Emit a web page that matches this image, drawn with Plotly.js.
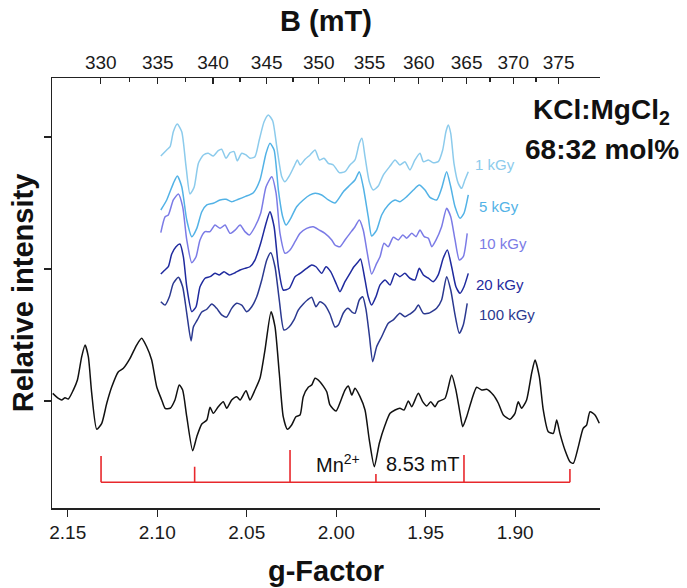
<!DOCTYPE html>
<html>
<head>
<meta charset="utf-8">
<script src="https://cdn.plot.ly/plotly-3.0.1.min.js"></script>
<style>html,body{margin:0;padding:0;background:#fff;}#chart{width:687px;height:588px;}</style>
</head>
<body>
<div id="chart"></div>
<script>
// ---- data (g-factor on x, relative intensity on y) ----
const doseLabels = ['1 kGy', '5 kGy', '10 kGy', '20 kGy', '100 kGy'];
const doseColors = ['#8ccbec', '#52b2e6', '#7b7be6', '#1f2a9e', '#2b3990'];

const g0 = [2.1584,2.1552,2.1534,2.1515,2.1497,2.1469,2.1446,2.1422,2.1403,2.1385,2.1366,2.1338,2.1310,2.1282,2.1254,2.1217,2.1189,2.1152,2.1115,2.1087,2.1059,2.1031,2.1003,2.0975,2.0956,2.0928,2.0901,2.0877,2.0858,2.0835,2.0802,2.0779,2.0751,2.0723,2.0705,2.0687,2.0659,2.0631,2.0612,2.0584,2.0556,2.0537,2.0504,2.0482,2.0454,2.0426,2.0398,2.0364,2.0342,2.0318,2.0296,2.0273,2.0249,2.0225,2.0202,2.0184,2.0156,2.0137,2.0118,2.0091,2.0053,2.0035,2.0001,1.9973,1.9951,1.9932,1.9913,1.9895,1.9867,1.9839,1.9815,1.9787,1.9759,1.9727,1.9699,1.9671,1.9644,1.9621,1.9597,1.9578,1.9541,1.9517,1.9494,1.9472,1.9448,1.9430,1.9392,1.9355,1.9331,1.9308,1.9293,1.9271,1.9243,1.9215,1.9187,1.9159,1.9122,1.9094,1.9066,1.9029,1.9001,1.8983,1.8964,1.8936,1.8908,1.8889,1.8865,1.8843,1.8815,1.8787,1.8768,1.8750,1.8722,1.8694,1.8675,1.8647,1.8620,1.8601,1.8582,1.8554,1.8530];
const y0 = [0.058,0.020,0.008,0.025,0.015,0.083,0.159,0.336,0.424,0.336,0.058,-0.214,-0.169,-0.017,0.108,0.222,0.248,0.323,0.424,0.475,0.411,0.311,0.108,0.008,-0.055,-0.055,0.008,0.121,0.083,-0.119,-0.377,-0.270,-0.174,-0.144,-0.048,-0.093,-0.043,-0.005,-0.055,0.008,0.033,0.008,0.078,0.008,0.083,0.172,0.386,0.677,0.563,0.210,-0.119,-0.214,-0.182,-0.119,-0.106,0.033,0.104,0.121,0.172,0.146,0.070,-0.030,-0.076,0.008,0.083,0.114,0.045,0.096,0.033,-0.068,-0.295,-0.498,-0.320,-0.182,-0.093,-0.068,-0.055,-0.068,0.000,-0.043,0.058,-0.005,-0.038,-0.005,-0.043,-0.005,0.020,0.197,0.083,-0.093,-0.195,-0.119,0.008,0.104,0.083,0.089,0.045,-0.017,-0.106,-0.139,-0.093,-0.005,-0.055,0.008,0.210,0.311,0.184,-0.068,-0.233,-0.245,-0.144,-0.245,-0.371,-0.460,-0.472,-0.346,-0.207,-0.182,-0.081,-0.106,-0.169];

const g1 = [2.0980,2.0947,2.0928,2.0910,2.0888,2.0863,2.0839,2.0817,2.0794,2.0770,2.0742,2.0715,2.0687,2.0659,2.0640,2.0616,2.0593,2.0571,2.0553,2.0528,2.0504,2.0482,2.0454,2.0430,2.0403,2.0379,2.0355,2.0332,2.0304,2.0286,2.0262,2.0236,2.0217,2.0202,2.0174,2.0146,2.0118,2.0094,2.0068,2.0044,2.0016,1.9983,1.9951,1.9923,1.9895,1.9871,1.9856,1.9839,1.9815,1.9793,1.9765,1.9737,1.9699,1.9671,1.9644,1.9616,1.9588,1.9560,1.9532,1.9513,1.9485,1.9458,1.9430,1.9405,1.9387,1.9374,1.9360,1.9342,1.9318,1.9299,1.9281,1.9262];
const y1 = [1.856,1.902,1.927,2.040,2.098,2.040,1.775,1.568,1.619,1.801,1.864,1.877,1.856,1.896,1.907,1.839,1.881,1.889,1.820,1.877,1.864,1.839,1.851,1.977,2.116,2.167,2.123,1.927,1.699,1.661,1.705,1.775,1.826,1.788,1.831,1.864,1.902,1.826,1.839,1.801,1.788,1.730,1.737,1.788,1.826,1.952,1.990,1.851,1.661,1.598,1.629,1.712,1.780,1.826,1.788,1.813,1.750,1.826,1.877,1.813,1.826,1.805,1.813,1.902,2.040,2.091,2.028,1.801,1.649,1.611,1.674,1.737];

const g5 = [2.0980,2.0947,2.0910,2.0888,2.0863,2.0835,2.0807,2.0779,2.0751,2.0723,2.0687,2.0649,2.0616,2.0584,2.0547,2.0510,2.0463,2.0426,2.0392,2.0370,2.0347,2.0323,2.0299,2.0280,2.0254,2.0221,2.0184,2.0146,2.0118,2.0081,2.0044,2.0007,1.9960,1.9923,1.9895,1.9871,1.9849,1.9821,1.9802,1.9774,1.9746,1.9709,1.9671,1.9644,1.9606,1.9569,1.9536,1.9504,1.9476,1.9439,1.9411,1.9383,1.9360,1.9336,1.9308,1.9286,1.9262];
const y5 = [1.447,1.523,1.649,1.705,1.623,1.371,1.245,1.308,1.434,1.485,1.498,1.523,1.528,1.510,1.528,1.548,1.578,1.674,1.877,1.952,1.902,1.598,1.396,1.333,1.384,1.472,1.523,1.561,1.573,1.561,1.523,1.500,1.586,1.636,1.674,1.737,1.623,1.396,1.250,1.295,1.409,1.485,1.523,1.510,1.548,1.598,1.636,1.598,1.543,1.523,1.611,1.737,1.623,1.472,1.384,1.422,1.561];

const g10 = [2.0980,2.0956,2.0938,2.0910,2.0882,2.0858,2.0835,2.0807,2.0783,2.0761,2.0733,2.0705,2.0677,2.0649,2.0621,2.0593,2.0565,2.0537,2.0510,2.0485,2.0454,2.0422,2.0392,2.0360,2.0336,2.0314,2.0286,2.0258,2.0230,2.0202,2.0165,2.0128,2.0094,2.0063,2.0025,2.0007,1.9979,1.9951,1.9923,1.9895,1.9871,1.9849,1.9826,1.9802,1.9774,1.9755,1.9733,1.9709,1.9681,1.9653,1.9628,1.9606,1.9578,1.9554,1.9532,1.9508,1.9485,1.9466,1.9442,1.9411,1.9383,1.9360,1.9336,1.9312,1.9290,1.9268];
const y10 = [1.275,1.396,1.409,1.523,1.568,1.472,1.220,1.048,1.093,1.220,1.283,1.283,1.333,1.308,1.333,1.270,1.295,1.333,1.283,1.258,1.320,1.422,1.623,1.699,1.574,1.270,1.119,1.144,1.207,1.270,1.308,1.320,1.295,1.270,1.220,1.182,1.169,1.220,1.270,1.320,1.371,1.295,1.119,0.962,1.043,1.093,1.195,1.169,1.240,1.220,1.258,1.233,1.270,1.245,1.295,1.245,1.233,1.169,1.220,1.320,1.460,1.396,1.220,1.068,1.093,1.270];

const g20 = [2.0980,2.0962,2.0938,2.0919,2.0895,2.0873,2.0854,2.0835,2.0807,2.0783,2.0761,2.0733,2.0705,2.0677,2.0653,2.0627,2.0597,2.0565,2.0537,2.0510,2.0482,2.0454,2.0422,2.0392,2.0370,2.0347,2.0323,2.0296,2.0262,2.0230,2.0202,2.0165,2.0137,2.0113,2.0081,2.0057,2.0031,1.9997,1.9979,1.9951,1.9923,1.9901,1.9877,1.9864,1.9839,1.9821,1.9802,1.9778,1.9755,1.9727,1.9699,1.9671,1.9644,1.9616,1.9588,1.9560,1.9536,1.9513,1.9485,1.9458,1.9430,1.9402,1.9379,1.9355,1.9331,1.9308,1.9286,1.9262];
const y20 = [0.962,0.987,1.018,1.114,1.169,1.189,1.093,0.866,0.677,0.714,0.866,0.930,0.942,0.967,0.955,0.980,0.955,0.972,0.992,1.005,1.017,1.068,1.195,1.346,1.434,1.320,1.017,0.841,0.854,0.942,0.967,1.005,1.030,1.017,0.967,1.017,0.980,0.879,0.828,0.904,0.967,1.017,1.055,1.076,0.917,0.790,0.727,0.790,0.879,0.917,0.879,0.967,0.942,0.967,0.930,0.917,1.005,0.955,0.930,0.904,0.955,1.081,1.144,1.017,0.866,0.816,0.866,0.967];

const g100 = [2.0980,2.0956,2.0932,2.0910,2.0882,2.0858,2.0835,2.0811,2.0798,2.0776,2.0751,2.0723,2.0695,2.0668,2.0640,2.0612,2.0584,2.0556,2.0528,2.0500,2.0472,2.0444,2.0416,2.0388,2.0366,2.0342,2.0318,2.0292,2.0262,2.0236,2.0212,2.0184,2.0161,2.0137,2.0113,2.0091,2.0063,2.0035,2.0007,1.9988,1.9960,1.9934,1.9912,1.9895,1.9871,1.9852,1.9833,1.9815,1.9796,1.9774,1.9746,1.9709,1.9681,1.9644,1.9616,1.9588,1.9560,1.9541,1.9513,1.9485,1.9466,1.9439,1.9411,1.9383,1.9360,1.9336,1.9312,1.9290,1.9268];
const y100 = [0.752,0.727,0.790,0.892,0.937,0.866,0.664,0.455,0.561,0.614,0.674,0.695,0.735,0.702,0.652,0.636,0.702,0.740,0.727,0.677,0.714,0.790,0.917,1.068,1.123,1.017,0.765,0.538,0.563,0.614,0.689,0.735,0.765,0.786,0.714,0.752,0.727,0.659,0.561,0.576,0.667,0.702,0.674,0.664,0.765,0.790,0.689,0.500,0.298,0.411,0.487,0.589,0.614,0.664,0.639,0.659,0.689,0.727,0.664,0.664,0.677,0.702,0.765,0.942,0.841,0.652,0.513,0.576,0.740];

// Mn2+ hyperfine stick pattern
const mnG = [2.1314, 2.0791, 2.0258, 1.9778, 1.9286, 1.8694];
const mnTop = [-0.417, -0.498, -0.371, -0.553, -0.409, -0.515];
const mnBase = -0.616;

// top axis: magnetic field (mT), B = hv/(g*muB)
const bTicks = [330, 335, 340, 345, 350, 355, 360, 365, 370, 375];
const bMinor = [332.5, 337.5, 342.5, 347.5, 352.5, 357.5, 362.5, 367.5, 372.5];
const hvOverMuB = 703.4; // mT
const gTicks = [2.15, 2.10, 2.05, 2.00, 1.95, 1.90];

// ---- build ----
const xRange = [2.1588, 1.8526];
const yRange = [-0.8106, 2.447];
const axisFont = {family: 'Arial, "Liberation Sans", sans-serif', size: 19, color: '#1a1a1a'};
const titleFont = {family: 'Arial, "Liberation Sans", sans-serif', size: 29, color: '#111', weight: 'bold'};

const line = (c) => ({color: c, width: 1.5, shape: 'spline', smoothing: 0.6});
const traces = [];
traces.push({x: g0, y: y0, mode: 'lines', line: line('#111'), hoverinfo: 'skip', showlegend: false});
const series = [[g1, y1], [g5, y5], [g10, y10], [g20, y20], [g100, y100]];
series.forEach((s, i) => traces.push({x: s[0], y: s[1], mode: 'lines', line: line(doseColors[i]), name: doseLabels[i], showlegend: false}));

// stick diagram (drawn against the top axis, which shares the same range)
const sx = [], sy = [];
sx.push(mnG[0], mnG[mnG.length - 1], null);
sy.push(mnBase, mnBase, null);
mnG.forEach((g, i) => { sx.push(g, g, null); sy.push(mnBase, mnTop[i], null); });
traces.push({x: sx, y: sy, xaxis: 'x2', yaxis: 'y', mode: 'lines', line: {color: '#e8282c', width: 1.6}, hoverinfo: 'skip', showlegend: false});

const labelPos = [[0.768, 0.798], [0.776, 0.701], [0.776, 0.616], [0.770, 0.519], [0.775, 0.4495]];
const annotations = doseLabels.map((t, i) => ({
  text: t, xref: 'paper', yref: 'paper', x: labelPos[i][0], y: labelPos[i][1],
  xanchor: 'left', yanchor: 'middle', showarrow: false,
  font: {family: 'Arial, "Liberation Sans", sans-serif', size: 15, color: doseColors[i]}
}));
annotations.push(
  {text: 'KCl:MgCl<sub>2</sub>', xref: 'paper', yref: 'paper', x: 1.0036, y: 0.922, xanchor: 'center', yanchor: 'middle', showarrow: false,
   font: {family: 'Arial, "Liberation Sans", sans-serif', size: 28, color: '#111', weight: 'bold'}},
  {text: '68:32 mol%', xref: 'paper', yref: 'paper', x: 1.0036, y: 0.833, xanchor: 'center', yanchor: 'middle', showarrow: false,
   font: {family: 'Arial, "Liberation Sans", sans-serif', size: 28, color: '#111', weight: 'bold'}},
  {text: 'Mn<sup>2+</sup>', xref: 'paper', yref: 'paper', x: 0.478, y: 0.103, xanchor: 'left', yanchor: 'middle', showarrow: false,
   font: {family: 'Arial, "Liberation Sans", sans-serif', size: 20, color: '#111'}},
  {text: '8.53 mT', xref: 'paper', yref: 'paper', x: 0.606, y: 0.103, xanchor: 'left', yanchor: 'middle', showarrow: false,
   font: {family: 'Arial, "Liberation Sans", sans-serif', size: 20, color: '#111'}}
);

const layout = {
  width: 687, height: 588,
  margin: {l: 52, r: 87, t: 78, b: 80},
  paper_bgcolor: '#fff', plot_bgcolor: '#fff',
  showlegend: false,
  xaxis: {
    range: xRange, tickmode: 'array', tickvals: gTicks, ticktext: gTicks.map(v => v.toFixed(2)),
    ticks: 'outside', ticklen: 7, tickwidth: 1.3, tickcolor: '#222',
    showline: true, linecolor: '#222', linewidth: 1.5, showgrid: false, zeroline: false,
    tickfont: axisFont,
    title: {text: 'g-Factor', font: titleFont, standoff: 18}
  },
  xaxis2: {
    overlaying: 'x', side: 'top', anchor: 'y', range: xRange,
    tickmode: 'array', tickvals: bTicks.map(b => hvOverMuB / b), ticktext: bTicks.map(String),
    ticks: 'inside', ticklen: 6, tickwidth: 1.3, tickcolor: '#222',
    minor: {tickmode: 'array', tickvals: bMinor.map(b => hvOverMuB / b), ticks: 'inside', ticklen: 4, tickwidth: 1.2, tickcolor: '#222'},
    showline: true, linecolor: '#222', linewidth: 1.5, showgrid: false, zeroline: false,
    tickfont: axisFont,
    title: {text: 'B (mT)', font: titleFont, standoff: 12}
  },
  yaxis: {
    range: yRange, tickmode: 'array', tickvals: [0, 1, 2], showticklabels: false,
    ticks: 'outside', ticklen: 7, tickwidth: 1.3, tickcolor: '#222',
    showline: true, linecolor: '#222', linewidth: 1.5, showgrid: false, zeroline: false,
    title: {text: 'Relative intensity', font: titleFont, standoff: 1}
  },
  annotations: annotations
};

Plotly.newPlot('chart', traces, layout, {displayModeBar: false, staticPlot: true});
</script>
</body>
</html>
